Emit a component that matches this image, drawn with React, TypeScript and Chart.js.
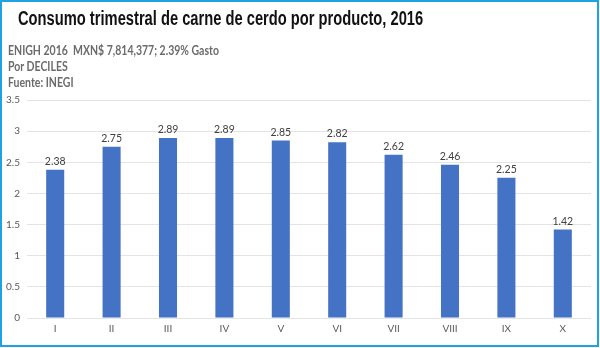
import React, { useEffect, useRef } from "react";
import { Chart, registerables } from "chart.js";

Chart.register(...registerables);

const categories = ["I", "II", "III", "IV", "V", "VI", "VII", "VIII", "IX", "X"];
const values = [2.38, 2.75, 2.89, 2.89, 2.85, 2.82, 2.62, 2.46, 2.25, 1.42];
const yTicks = [0, 0.5, 1, 1.5, 2, 2.5, 3, 3.5];
const title = "Consumo trimestral de carne de cerdo por producto, 2016";
const subtitleLines = ["ENIGH 2016  MXN$ 7,814,377; 2.39% Gasto", "Por DECILES", "Fuente: INEGI"];

const labelFont = "Lato, 'Open Sans', sans-serif";

const valueLabels = {
  id: "valueLabels",
  afterDatasetsDraw(chart: any) {
    const ctx = chart.ctx;
    const meta = chart.getDatasetMeta(0);
    ctx.save();
    ctx.font = `10.5px ${labelFont}`;
    ctx.fillStyle = "#404040";
    ctx.textAlign = "center";
    ctx.textBaseline = "bottom";
    meta.data.forEach((bar: any, i: number) => {
      ctx.fillText(values[i].toFixed(2), bar.x, bar.y - 3);
    });
    ctx.restore();
  },
};

export default function App() {
  const ref = useRef<HTMLCanvasElement>(null);
  useEffect(() => {
    if (!ref.current) return;
    const chart = new Chart(ref.current, {
      type: "bar",
      data: {
        labels: categories,
        datasets: [
          {
            data: values,
            backgroundColor: "#4472C4",
            borderWidth: 0,
            barPercentage: 0.32,
            categoryPercentage: 1,
          },
        ],
      },
      options: {
        animation: false,
        responsive: false,
        maintainAspectRatio: false,
        layout: { padding: { top: 100, right: 9, left: 0, bottom: 0 } },
        plugins: { legend: { display: false }, tooltip: { enabled: false } },
        scales: {
          x: {
            grid: { display: false, drawTicks: false },
            border: { display: false },
            ticks: { color: "#595959", font: { size: 10, family: labelFont }, padding: 5 },
            afterFit: (s: any) => {
              s.height = 30;
            },
          },
          y: {
            min: 0,
            max: 3.5,
            afterBuildTicks: (s: any) => {
              s.ticks = yTicks.map((v) => ({ value: v }));
            },
            grid: { color: "#E4E4E4", drawTicks: false, lineWidth: 1 },
            border: { display: false },
            ticks: {
              color: "#595959",
              font: { size: 10, family: labelFont },
              padding: 7,
              callback: (v: any) => String(v),
            },
            afterFit: (s: any) => {
              s.width = 27;
            },
          },
        },
      },
      plugins: [valueLabels],
    });
    return () => chart.destroy();
  }, []);

  return (
    <div
      style={{
        position: "fixed",
        left: 0,
        top: 0,
        width: 600,
        height: 348,
        background: "#fff",
        overflow: "hidden",
      }}
    >
      <canvas ref={ref} width={600} height={348} style={{ position: "absolute", left: 0, top: 0 }} />
      <div
        style={{
          position: "absolute",
          left: 18,
          top: 7,
          fontFamily: "'Liberation Sans', Arial, sans-serif",
          fontWeight: 700,
          fontSize: 20,
          color: "#111",
          whiteSpace: "nowrap",
          transform: "scaleX(0.735)",
          transformOrigin: "left top",
        }}
      >
        {title}
      </div>
      <div
        style={{
          position: "absolute",
          left: 8,
          top: 43,
          fontFamily: labelFont,
          fontWeight: 700,
          fontSize: 12.5,
          lineHeight: "16px",
          color: "#6b6b6b",
          whiteSpace: "nowrap",
          transform: "scaleX(0.84)",
          transformOrigin: "left top",
        }}
      >
        {subtitleLines.map((l, i) => (
          <div key={i} style={{ whiteSpace: "pre" }}>{l}</div>
        ))}
      </div>
      <div
        style={{
          position: "absolute",
          left: 0,
          top: 0,
          width: 599,
          height: 347,
          boxSizing: "border-box",
          border: "2px solid #1FA2E2",
          pointerEvents: "none",
        }}
      />
    </div>
  );
}
